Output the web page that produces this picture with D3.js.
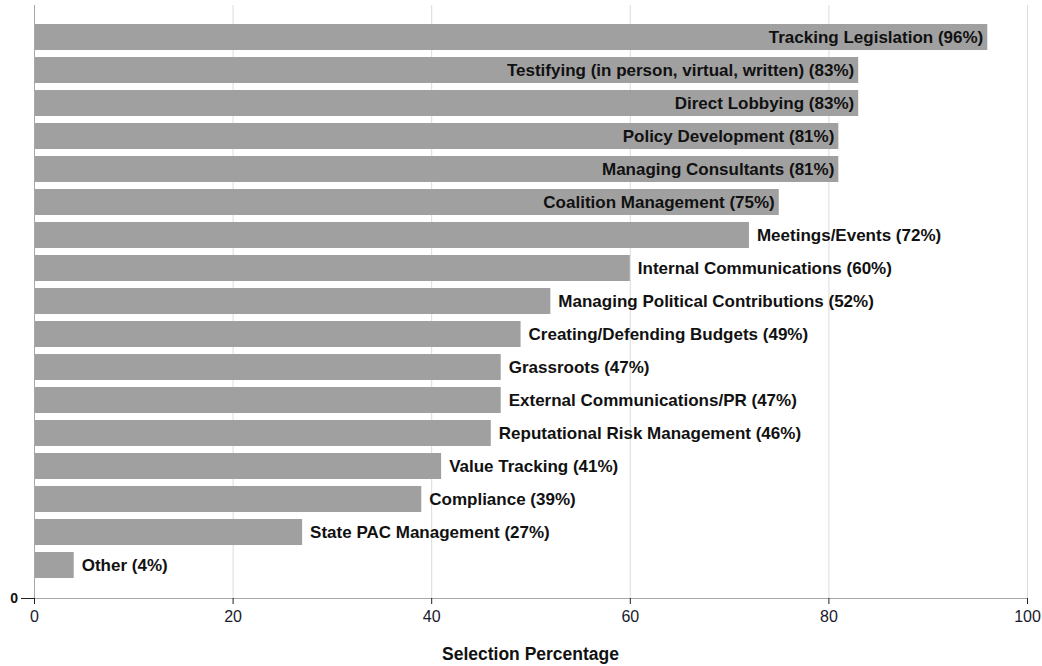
<!DOCTYPE html>
<html>
<head>
<meta charset="utf-8">
<script src="https://cdn.jsdelivr.net/npm/d3@7"></script>
<style>
  html, body { margin: 0; padding: 0; background: #fff; }
  svg { display: block; font-family: "Liberation Sans", Arial, sans-serif; }
</style>
</head>
<body>
<svg id="chart" width="1042" height="666"></svg>
<script>
// Activities selected by respondents, with the share choosing each
const categories = [
  "Tracking Legislation",
  "Testifying (in person, virtual, written)",
  "Direct Lobbying",
  "Policy Development",
  "Managing Consultants",
  "Coalition Management",
  "Meetings/Events",
  "Internal Communications",
  "Managing Political Contributions",
  "Creating/Defending Budgets",
  "Grassroots",
  "External Communications/PR",
  "Reputational Risk Management",
  "Value Tracking",
  "Compliance",
  "State PAC Management",
  "Other"
];
const percentages = [96, 83, 83, 81, 81, 75, 72, 60, 52, 49, 47, 47, 46, 41, 39, 27, 4];
const xTicks = [0, 20, 40, 60, 80, 100];
const xTitle = "Selection Percentage";

const svg = d3.select("#chart");
const plotLeft = 34, plotRight = 1027, plotTop = 5, plotBottom = 598;

const x = d3.scaleLinear().domain([0, 100]).range([plotLeft, plotRight]);
const y = d3.scaleBand().domain(categories).range([24, 578]).paddingInner(7 / 33).paddingOuter(0);

// vertical grid
svg.append("g")
  .selectAll("line")
  .data(xTicks.filter(t => t > 0))
  .join("line")
  .attr("x1", d => x(d) + 0.5).attr("x2", d => x(d) + 0.5)
  .attr("y1", plotTop).attr("y2", plotBottom)
  .attr("stroke", "#dcdcdc").attr("stroke-width", 1);

// bars
svg.append("g")
  .selectAll("rect")
  .data(categories)
  .join("rect")
  .attr("x", x(0))
  .attr("y", d => y(d))
  .attr("width", (d, i) => x(percentages[i]) - x(0))
  .attr("height", y.bandwidth())
  .attr("fill", "#a0a0a0");

// bar labels: inside for the longest bars, outside otherwise
svg.append("g")
  .selectAll("text")
  .data(categories)
  .join("text")
  .attr("x", (d, i) => percentages[i] >= 75 ? x(percentages[i]) - 4 : x(percentages[i]) + 8)
  .attr("y", d => y(d) + y.bandwidth() / 2)
  .attr("dy", "0.36em")
  .attr("text-anchor", (d, i) => percentages[i] >= 75 ? "end" : "start")
  .attr("font-size", 17)
  .attr("font-weight", "bold")
  .attr("fill", "#111")
  .text((d, i) => `${d} (${percentages[i]}%)`);

// x axis
const xAxis = svg.append("g")
  .attr("transform", `translate(0,${plotBottom})`)
  .call(d3.axisBottom(x).tickValues(xTicks).tickSize(6).tickSizeOuter(0));
xAxis.select(".domain").attr("stroke", "#a8a8a8");
xAxis.selectAll(".tick line").attr("stroke", "#222");
xAxis.selectAll(".tick text")
  .attr("font-size", 16).attr("font-family", "Liberation Sans, Arial, sans-serif")
  .attr("fill", "#1a1a2e").attr("dy", "0.95em");

// y axis with a single zero tick
const yAxis = svg.append("g")
  .attr("transform", `translate(${plotLeft},0)`);
yAxis.append("line")
  .attr("x1", 0.5).attr("x2", 0.5).attr("y1", plotTop).attr("y2", plotBottom)
  .attr("stroke", "#a8a8a8");
yAxis.append("line")
  .attr("x1", -13).attr("x2", 0).attr("y1", plotBottom + 0.5).attr("y2", plotBottom + 0.5)
  .attr("stroke", "#222");
yAxis.append("text")
  .attr("x", -16).attr("y", plotBottom).attr("dy", "0.35em")
  .attr("text-anchor", "end")
  .attr("font-size", 14).attr("font-weight", "bold").attr("fill", "#111")
  .text("0");

// axis title
svg.append("text")
  .attr("x", (plotLeft + plotRight) / 2).attr("y", 660)
  .attr("text-anchor", "middle")
  .attr("font-size", 17.5).attr("font-weight", "bold").attr("fill", "#111")
  .text(xTitle);
</script>
</body>
</html>
